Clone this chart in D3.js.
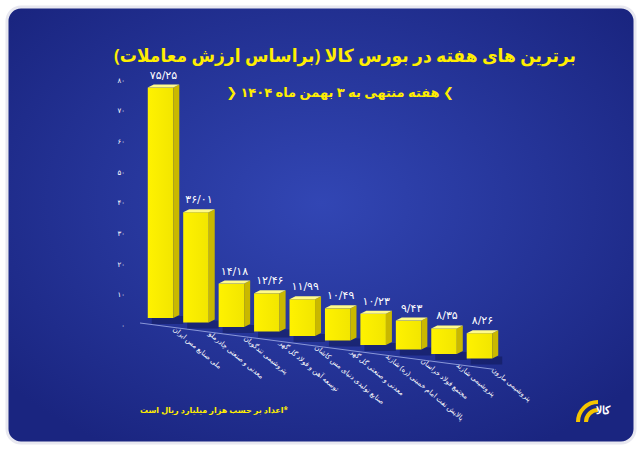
<!DOCTYPE html>
<html><head><meta charset="UTF-8">
<script src="https://d3js.org/d3.v7.min.js"></script>
<style>body{margin:0;background:#fff}</style>
</head><body>
<script>
// data
var names = ["ملی صنایع مس ایران","معدنی و صنعتی چادرملو","پتروشیمی تندگویان","توسعه آهن و فولاد گل گهر","صنایع تولیدی دنیای مس کاشان","معدنی و صنعتی گل گهر","پالایش نفت امام خمینی (ره) شازند","مجتمع فولاد خراسان","پتروشیمی شازند","پتروشیمی مارون"]
var values = [75.25, 36.01, 14.18, 12.46, 11.99, 10.49, 10.23, 9.43, 8.35, 8.26]
var yTicks = [0, 10, 20, 30, 40, 50, 60, 70, 80]
var title = "برترین های هفته در بورس کالا (براساس ارزش معاملات)"
var subtitle = "هفته منتهی به ۳ بهمن ماه ۱۴۰۴"
var note = "*اعداد بر حسب هزار میلیارد ریال است"

function fa(s){ return String(s).replace(/\d/g, d => "۰۱۲۳۴۵۶۷۸۹"[d]).replace(/\./g, "/") }

var W = 642, H = 450
var svg = d3.select("body").append("svg").attr("width", W).attr("height", H)
var defs = svg.append("defs")
var rg = defs.append("radialGradient").attr("id","bg").attr("cx","50%").attr("cy","45%").attr("r","65%")
rg.append("stop").attr("offset","0%").attr("stop-color","#3246b4")
rg.append("stop").attr("offset","100%").attr("stop-color","#1a2580")
var fg = defs.append("linearGradient").attr("id","front").attr("x1","0").attr("x2","1")
fg.append("stop").attr("offset","0%").attr("stop-color","#fff200")
fg.append("stop").attr("offset","100%").attr("stop-color","#f2e600")

svg.append("rect").attr("x",7).attr("y",7).attr("width",W-14).attr("height",H-14).attr("rx",14)
  .attr("fill","url(#bg)").attr("stroke","#e8e8f0").attr("stroke-width",3)

svg.append("text").attr("x",345).attr("y",62).attr("text-anchor","middle").attr("direction","rtl")
  .attr("font-family","Noto Sans, DejaVu Sans").attr("font-weight","bold").attr("font-size",18)
  .attr("textLength",462).attr("lengthAdjust","spacingAndGlyphs")
  .attr("fill","#ffee00").text(title)
svg.append("text").attr("x",340).attr("y",97).attr("text-anchor","middle").attr("direction","rtl")
  .attr("font-family","Noto Sans, DejaVu Sans").attr("font-weight","bold").attr("font-size",13)
  .attr("fill","#ffee00").text("❯ " + subtitle + " ❮")

var y = d3.scaleLinear().domain([0, 80]).range([325, 80])
var x = d3.scaleBand().domain(names).range([146, 494]).paddingInner(0.28).paddingOuter(0.05)
var slope = 4.5

var ax = svg.append("g").attr("transform","translate(128,0)")
  .call(d3.axisLeft(y).tickValues(yTicks).tickSize(0).tickFormat(fa))
ax.select(".domain").remove()
ax.selectAll("text").attr("fill","#fff").attr("font-size",7).attr("font-family","DejaVu Sans")

// floor line
svg.append("line").attr("x1",140).attr("y1",323).attr("x2",494).attr("y2",323+slope*10.3)
  .attr("stroke","#8a97d8").attr("stroke-width",1)

var d = 6
var g = svg.selectAll(".bar").data(names).enter().append("g")
  .attr("transform",(n,i)=>"translate(0,"+(i*slope-7)+")")
g.each(function(n,i){
  var s = d3.select(this), x0 = x(n), bw = x.bandwidth(), yt = y(values[i]), yb = y(0)
  s.append("rect").attr("x",x0+4).attr("y",yb-2).attr("width",bw+d).attr("height",8).attr("fill","#0d154f").attr("opacity",0.5)
  s.append("rect").attr("x",x0).attr("y",yt).attr("width",bw).attr("height",yb-yt).attr("fill","url(#front)")
  s.append("path").attr("d","M"+(x0+bw)+","+yt+"l"+d+","+(-d/2)+"V"+(yb-d/2)+"l"+(-d)+","+(d/2)+"Z").attr("fill","#c9b800")
  s.append("path").attr("d","M"+x0+","+yt+"l"+d+","+(-d/2)+"h"+bw+"l"+(-d)+","+(d/2)+"Z").attr("fill","#fffb8a")
  s.append("text").attr("x",x0+bw/2+3).attr("y",yt-9).attr("text-anchor","middle")
    .attr("fill","#fff").attr("font-size",11).attr("font-family","DejaVu Sans").text(fa(values[i]))
  s.append("text").attr("transform","translate("+(x0+bw/2+12)+","+(yb+12)+") rotate(40)")
    .attr("text-anchor","end").attr("direction","rtl").attr("fill","#fff").attr("font-size",7)
    .attr("font-family","Noto Sans, DejaVu Sans").text(n)
})

svg.append("text").attr("x",140).attr("y",413).attr("text-anchor","end").attr("direction","rtl")
  .attr("fill","#ffee00").attr("font-size",8).attr("font-weight","bold")
  .attr("font-family","Noto Sans, DejaVu Sans").text(note)

// logo
var lg = svg.append("g").attr("transform","translate(598,412)")
lg.append("path").attr("d","M-20,10 A20,20 0 0 1 0,-10").attr("fill","none").attr("stroke","#f5c400").attr("stroke-width",4)
lg.append("path").attr("d","M-12,10 A12,12 0 0 1 0,-2").attr("fill","none").attr("stroke","#f5c400").attr("stroke-width",4)
lg.append("text").attr("x",-2).attr("y",2).attr("fill","#fff").attr("font-size",11).attr("font-weight","bold")
  .attr("font-family","Noto Sans").text("کالا")
</script>
</body></html>
